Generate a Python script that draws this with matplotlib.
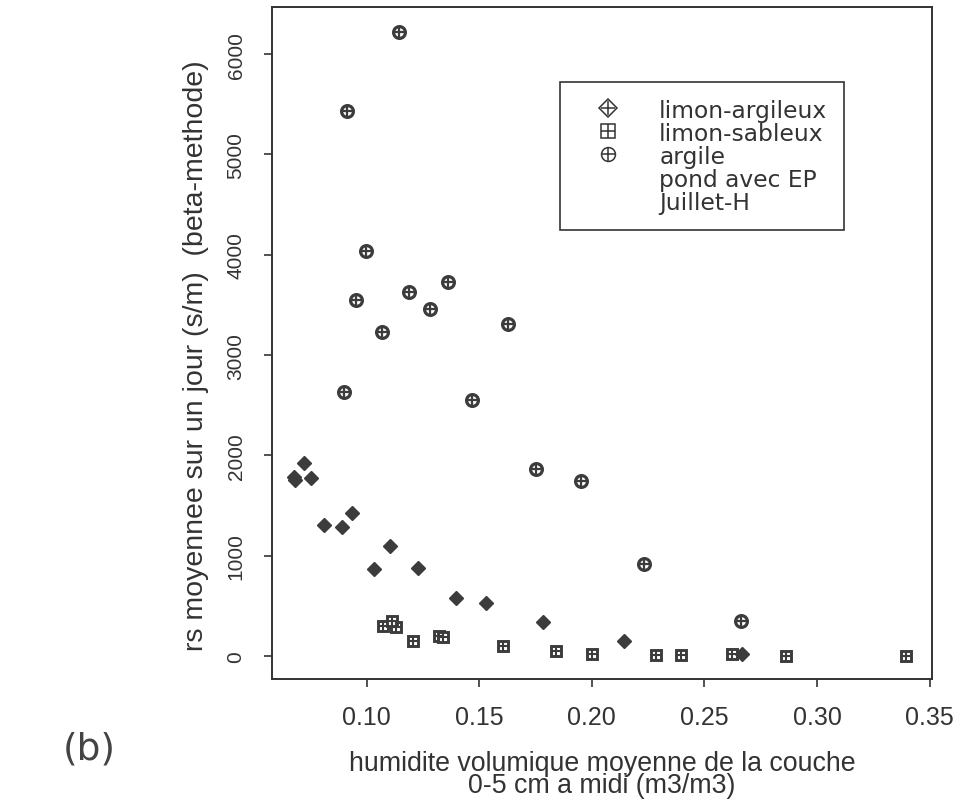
import matplotlib
matplotlib.use("Agg")
import matplotlib.pyplot as plt
from matplotlib.lines import Line2D

plt.rcParams['font.family'] = ['Liberation Sans', 'DejaVu Sans']

# data
argile_x = [0.1146, 0.0913, 0.0999, 0.0954, 0.1190, 0.1363, 0.1282, 0.1068,
            0.1630, 0.0898, 0.1468, 0.1750, 0.1950, 0.2230, 0.2661]
argile_y = [6225, 5434, 4038, 3546, 3633, 3726, 3460, 3227,
            3310, 2636, 2556, 1865, 1749, 921, 353]

limarg_x = [0.0678, 0.0683, 0.0724, 0.0752, 0.0811, 0.0892, 0.0934, 0.1106,
            0.1034, 0.1230, 0.1398, 0.1528, 0.1783, 0.2142, 0.2668]
limarg_y = [1780, 1755, 1928, 1779, 1310, 1290, 1430, 1097,
            867, 874, 582, 525, 343, 153, 20]

limsab_x = [0.1075, 0.1131, 0.1114, 0.1205, 0.1322, 0.1338, 0.1605, 0.1842,
            0.2001, 0.2285, 0.2397, 0.2624, 0.2862, 0.3395]
limsab_y = [299, 293, 349, 150, 195, 190, 104, 54,
            20, 10, 10, 20, 0, 0]

xticks = [0.10, 0.15, 0.20, 0.25, 0.30, 0.35]
yticks = [0, 1000, 2000, 3000, 4000, 5000, 6000]

ink = "#333333"
pt = "#3c3c3c"

fig = plt.figure(figsize=(9.6, 8.04), dpi=100)
ax = fig.add_axes([0.2833, 0.1542, 0.6875, 0.8358])

# points: symbol with cross, drawn thick
ax.plot(argile_x, argile_y, 'o', ms=8.5, mfc='white', mec=pt, mew=2.3, ls='none')
ax.plot(argile_x, argile_y, '+', ms=8.5, mec=pt, mew=1.6, ls='none')
ax.plot(limsab_x, limsab_y, 's', ms=7.5, mfc='white', mec=pt, mew=2.1, ls='none')
ax.plot(limsab_x, limsab_y, '+', ms=7.5, mec=pt, mew=1.5, ls='none')
ax.plot(limarg_x, limarg_y, 'D', ms=7.5, mfc=pt, mec=pt, mew=1, ls='none')

ax.set_xlim(0.058, 0.351)
ax.set_ylim(-230, 6470)
ax.set_xticks(xticks)
ax.set_xticklabels(["%.2f" % v for v in xticks])
ax.set_yticks(yticks)
ax.set_yticklabels([str(v) for v in yticks], rotation=90, va='center')

ax.tick_params(axis='x', length=6, width=1.2, color=ink, labelsize=18, pad=13, labelcolor=ink)
ax.tick_params(axis='y', length=6, width=1.2, color=ink, labelsize=15, pad=13, labelcolor=ink)
for s in ax.spines.values():
    s.set_linewidth(1.4)
    s.set_color(ink)

ax.set_xlabel("humidite volumique moyenne de la couche\n0-5 cm a midi (m3/m3)",
              fontsize=19.3, color=ink, labelpad=15, linespacing=0.8)
ax.set_ylabel("rs moyennee sur un jour (s/m)  (beta-methode)",
              fontsize=20.5, color=ink)
ax.yaxis.set_label_coords(-0.095, 0.482)

# legend
h_arg = (Line2D([], [], marker='D', ms=9.5, mfc='white', mec=ink, mew=1.1, ls='none'),
         Line2D([], [], marker='+', ms=9.5, mec=ink, mew=1.1, ls='none'))
h_sab = (Line2D([], [], marker='s', ms=9.5, mfc='white', mec=ink, mew=1.1, ls='none'),
         Line2D([], [], marker='+', ms=9.5, mec=ink, mew=1.1, ls='none'))
h_cir = (Line2D([], [], marker='o', ms=10, mfc='white', mec=ink, mew=1.1, ls='none'),
         Line2D([], [], marker='+', ms=10, mec=ink, mew=1.1, ls='none'))
h_none = Line2D([], [], ls='none')
leg = ax.legend([h_arg, h_sab, h_cir, h_none, h_none],
                ["limon-argileux", "limon-sableux", "argile", "pond avec EP", "Juillet-H"],
                loc='upper left', bbox_to_anchor=(0.436, 0.888), borderaxespad=0,
                fancybox=False, framealpha=1, edgecolor=ink,
                prop={'family': 'DejaVu Sans', 'size': 16.8},
                borderpad=0.7, handlelength=2.7, handletextpad=0.86, labelspacing=0.0)
leg.get_frame().set_linewidth(1.2)
for t in leg.get_texts():
    t.set_color(ink)

fig.text(0.093, 0.068, "(b)", fontsize=27, color="#444444", ha='center', va='center',
         family='DejaVu Sans')

fig.savefig("out.png", dpi=100)
